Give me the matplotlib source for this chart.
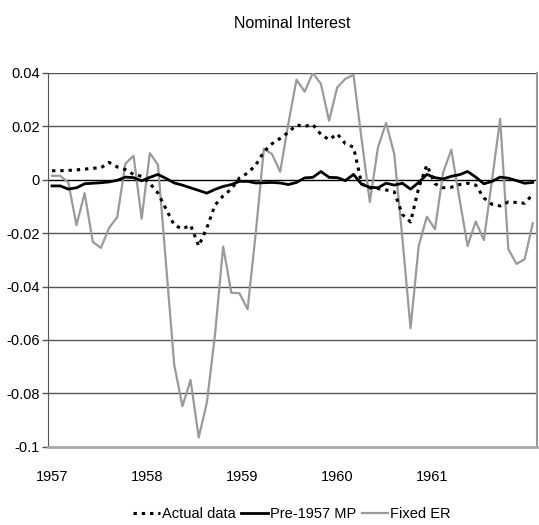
import matplotlib
matplotlib.use("Agg")
import matplotlib.pyplot as plt
import numpy as np

plt.rcParams["font.family"] = ["Liberation Sans Narrow", "Liberation Sans", "DejaVu Sans"]

TITLE = "Nominal Interest"
YEARS = ["1957", "1958", "1959", "1960", "1961"]

# monthly values, 1957:1 - 1961:12
actual_data = [
    0.0034, 0.0034, 0.0035, 0.0037, 0.0040, 0.0043, 0.0045, 0.0065, 0.0048, 0.0038, 0.0020, 0.0013,
    -0.0013, -0.0050, -0.0110, -0.0170, -0.0184, -0.0170, -0.0248, -0.0180, -0.0095, -0.0060, -0.0035, 0.0007,
    0.0025, 0.0055, 0.0105, 0.0135, 0.0155, 0.0178, 0.0205, 0.0200, 0.0207, 0.0170, 0.0150, 0.0172,
    0.0135, 0.0122, -0.0015, -0.0030, -0.0033, -0.0038, -0.0045, -0.0130, -0.0158, -0.0030, 0.0055, -0.0015,
    -0.0030, -0.0028, -0.0018, -0.0013, -0.0020, -0.0068, -0.0092, -0.0098, -0.0083, -0.0085, -0.0088, -0.0055,
]
pre_1957_mp = [
    -0.0023, -0.0023, -0.0035, -0.0030, -0.0015, -0.0013, -0.0011, -0.0008, -0.0002, 0.0010, 0.0008, -0.0004,
    0.0009, 0.0020, 0.0005, -0.0012, -0.0020, -0.0030, -0.0040, -0.0050, -0.0036, -0.0025, -0.0018, -0.0006,
    -0.0006, -0.0012, -0.0011, -0.0010, -0.0012, -0.0018, -0.0010, 0.0007, 0.0009, 0.0031, 0.0009, 0.0008,
    -0.0003, 0.0020, -0.0017, -0.0028, -0.0030, -0.0013, -0.0020, -0.0013, -0.0035, -0.0010, 0.0020, 0.0008,
    0.0003, 0.0013, 0.0019, 0.0031, 0.0010, -0.0015, -0.0006, 0.0010, 0.0006, -0.0003, -0.0013, -0.0010,
]
fixed_er = [
    0.0015, 0.0015, -0.0010, -0.0170, -0.0050, -0.0233, -0.0255, -0.0180, -0.0140, 0.0060, 0.0090, -0.0146,
    0.0100, 0.0056, -0.0320, -0.0694, -0.0848, -0.0750, -0.0965, -0.0835, -0.0580, -0.0250, -0.0423, -0.0425,
    -0.0485, -0.0200, 0.0117, 0.0096, 0.0030, 0.0210, 0.0375, 0.0330, 0.0400, 0.0359, 0.0221, 0.0346,
    0.0378, 0.0393, 0.0150, -0.0083, 0.0121, 0.0213, 0.0096, -0.0220, -0.0556, -0.0248, -0.0138, -0.0185,
    0.0027, 0.0113, -0.0070, -0.0248, -0.0156, -0.0226, 0.0000, 0.0228, -0.0260, -0.0315, -0.0298, -0.0163,
]


def main() -> None:
    fig = plt.figure(figsize=(5.39, 5.25), dpi=100)
    ax = fig.add_axes([0.089, 0.149, 0.907, 0.712])
    x = np.arange(len(actual_data))

    for y in np.arange(-0.08, 0.041, 0.02):
        ax.axhline(y, color="#555555" if abs(y) > 1e-9 else "black", lw=1.0, zorder=1)

    ax.plot(x, actual_data, color="black", lw=2.2, linestyle=(0, (1.1, 1.6)), label="Actual data", zorder=3)
    ax.plot(x, pre_1957_mp, color="black", lw=2.0, label="Pre-1957 MP", zorder=4)
    ax.plot(x, fixed_er, color="#9a9a9a", lw=1.6, label="Fixed ER", zorder=2)

    ax.set_xlim(-0.5, len(actual_data) - 0.5)
    ax.set_ylim(-0.1, 0.04)
    ax.set_yticks([0.04, 0.02, 0, -0.02, -0.04, -0.06, -0.08, -0.1])
    ax.set_yticklabels(["0.04", "0.02", "0", "-0.02", "-0.04", "-0.06", "-0.08", "-0.1"], fontsize=10.5)
    ax.set_xticks(np.arange(len(YEARS)) * 11.65)
    ax.set_xticklabels(YEARS, fontsize=10.5)
    ax.tick_params(axis="x", length=0, pad=17)
    ax.tick_params(axis="y", length=4, width=1, color="#555555", pad=2)

    ax.spines["top"].set_visible(False)
    ax.spines["left"].set_color("#555555")
    ax.spines["right"].set_color("#999999")
    ax.spines["bottom"].set_color("#aaaaaa")
    ax.spines["bottom"].set_linewidth(2.0)
    ax.spines["right"].set_linewidth(1.5)

    fig.text(0.542, 0.956, TITLE, ha="center", va="center", fontsize=11.5)
    fig.legend(loc="center", bbox_to_anchor=(0.542, 0.02), ncol=3, frameon=False,
               fontsize=10.5, handlelength=1.8, handletextpad=0.15, columnspacing=0.4,
               borderpad=0.0, borderaxespad=0.0)
    fig.savefig("out.png", dpi=100)
    plt.close(fig)


if __name__ == "__main__":
    main()
